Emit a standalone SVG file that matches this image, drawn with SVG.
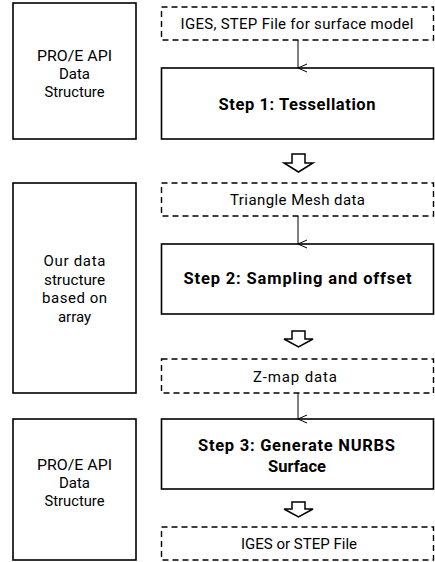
<svg xmlns="http://www.w3.org/2000/svg" width="435" height="562" viewBox="0 0 435 562">
<style>
.box{fill:#fff;stroke:#000;stroke-width:1.6}
.dash{fill:#fff;stroke:#000;stroke-width:1.4;stroke-dasharray:6 4}
.t{font-family:Roboto,"Liberation Sans",sans-serif;font-size:15px;fill:#000;text-anchor:middle}
.b{font-family:Roboto,"Liberation Sans",sans-serif;font-size:16.5px;font-weight:bold;fill:#000;text-anchor:middle}
.ln{stroke:#000;stroke-width:1;fill:none}
.ha{fill:#fff;stroke:#000;stroke-width:1.5;stroke-linejoin:miter}
</style>
<defs>
<marker id="v" markerWidth="12" markerHeight="12" refX="6" refY="10" orient="auto-start-reverse" markerUnits="userSpaceOnUse" viewBox="0 0 12 12">
<path d="M2,1 L6,10 L10,1" fill="none" stroke="#000" stroke-width="1"/>
</marker>
</defs>
<rect width="435" height="562" fill="#fff"/>
<g id="left1"><rect class="box" x="13" y="3" width="123" height="136"/>
<text class="t" x="74.5" y="61" textLength="75" lengthAdjust="spacingAndGlyphs">PRO/E API</text><text class="t" x="74.5" y="79">Data</text><text class="t" x="74.5" y="97" textLength="60" lengthAdjust="spacingAndGlyphs">Structure</text></g>
<g id="left2"><rect class="box" x="13" y="183" width="123" height="210"/>
<text class="t" x="74.5" y="266" textLength="62" lengthAdjust="spacing">Our data</text><text class="t" x="74.5" y="284.5" textLength="61" lengthAdjust="spacingAndGlyphs">structure</text><text class="t" x="74.5" y="303" textLength="65" lengthAdjust="spacing">based on</text><text class="t" x="74.5" y="321.5">array</text></g>
<g id="left3"><rect class="box" x="13" y="419" width="123" height="141"/>
<text class="t" x="74.5" y="470" textLength="75" lengthAdjust="spacingAndGlyphs">PRO/E API</text><text class="t" x="74.5" y="488">Data</text><text class="t" x="74.5" y="506" textLength="60" lengthAdjust="spacingAndGlyphs">Structure</text></g>
<g id="in1"><rect class="dash" x="161.5" y="7" width="272" height="33"/><text class="t" x="297" y="28.5" textLength="233" lengthAdjust="spacing">IGES, STEP File for surface model</text></g>
<g id="step1"><rect class="box" x="161.5" y="68" width="272" height="71"/><text class="b" x="297" y="110" textLength="157" lengthAdjust="spacing">Step 1: Tessellation</text></g>
<g id="in2"><rect class="dash" x="161.5" y="183" width="272" height="33"/><text class="t" x="297.5" y="205" textLength="135" lengthAdjust="spacing">Triangle Mesh data</text></g>
<g id="step2"><rect class="box" x="161.5" y="244" width="272" height="70"/><text class="b" x="297.5" y="284" textLength="228" lengthAdjust="spacing">Step 2: Sampling and offset</text></g>
<g id="in3"><rect class="dash" x="161.5" y="359" width="272" height="34"/><text class="t" x="295" y="381.5" textLength="84" lengthAdjust="spacing">Z-map data</text></g>
<g id="step3"><rect class="box" x="161.5" y="419" width="272" height="70"/><text class="b" x="296.5" y="451" textLength="197" lengthAdjust="spacing">Step 3: Generate NURBS</text><text class="b" x="297" y="472" textLength="58" lengthAdjust="spacing">Surface</text></g>
<g id="out"><rect class="dash" x="161.5" y="527" width="272" height="33"/><text class="t" x="299" y="548.5" textLength="116" lengthAdjust="spacing">IGES or STEP File</text></g>
<g id="connectors">
<line class="ln" x1="298" y1="40" x2="298" y2="68" marker-end="url(#v)"/>
<line class="ln" x1="298" y1="216" x2="298" y2="244" marker-end="url(#v)"/>
<line class="ln" x1="298" y1="393" x2="298" y2="419" marker-end="url(#v)"/>
<path class="ha" d="M292,154 H305 V163 H313 L298.5,172 L284,163 H292 Z"/>
<path class="ha" d="M292,331 H305 V339 H313 L298.5,347 L284,339 H292 Z"/>
<path class="ha" d="M292,502 H305 V509 H313 L298.5,517 L284,509 H292 Z"/>
</g>
</svg>
